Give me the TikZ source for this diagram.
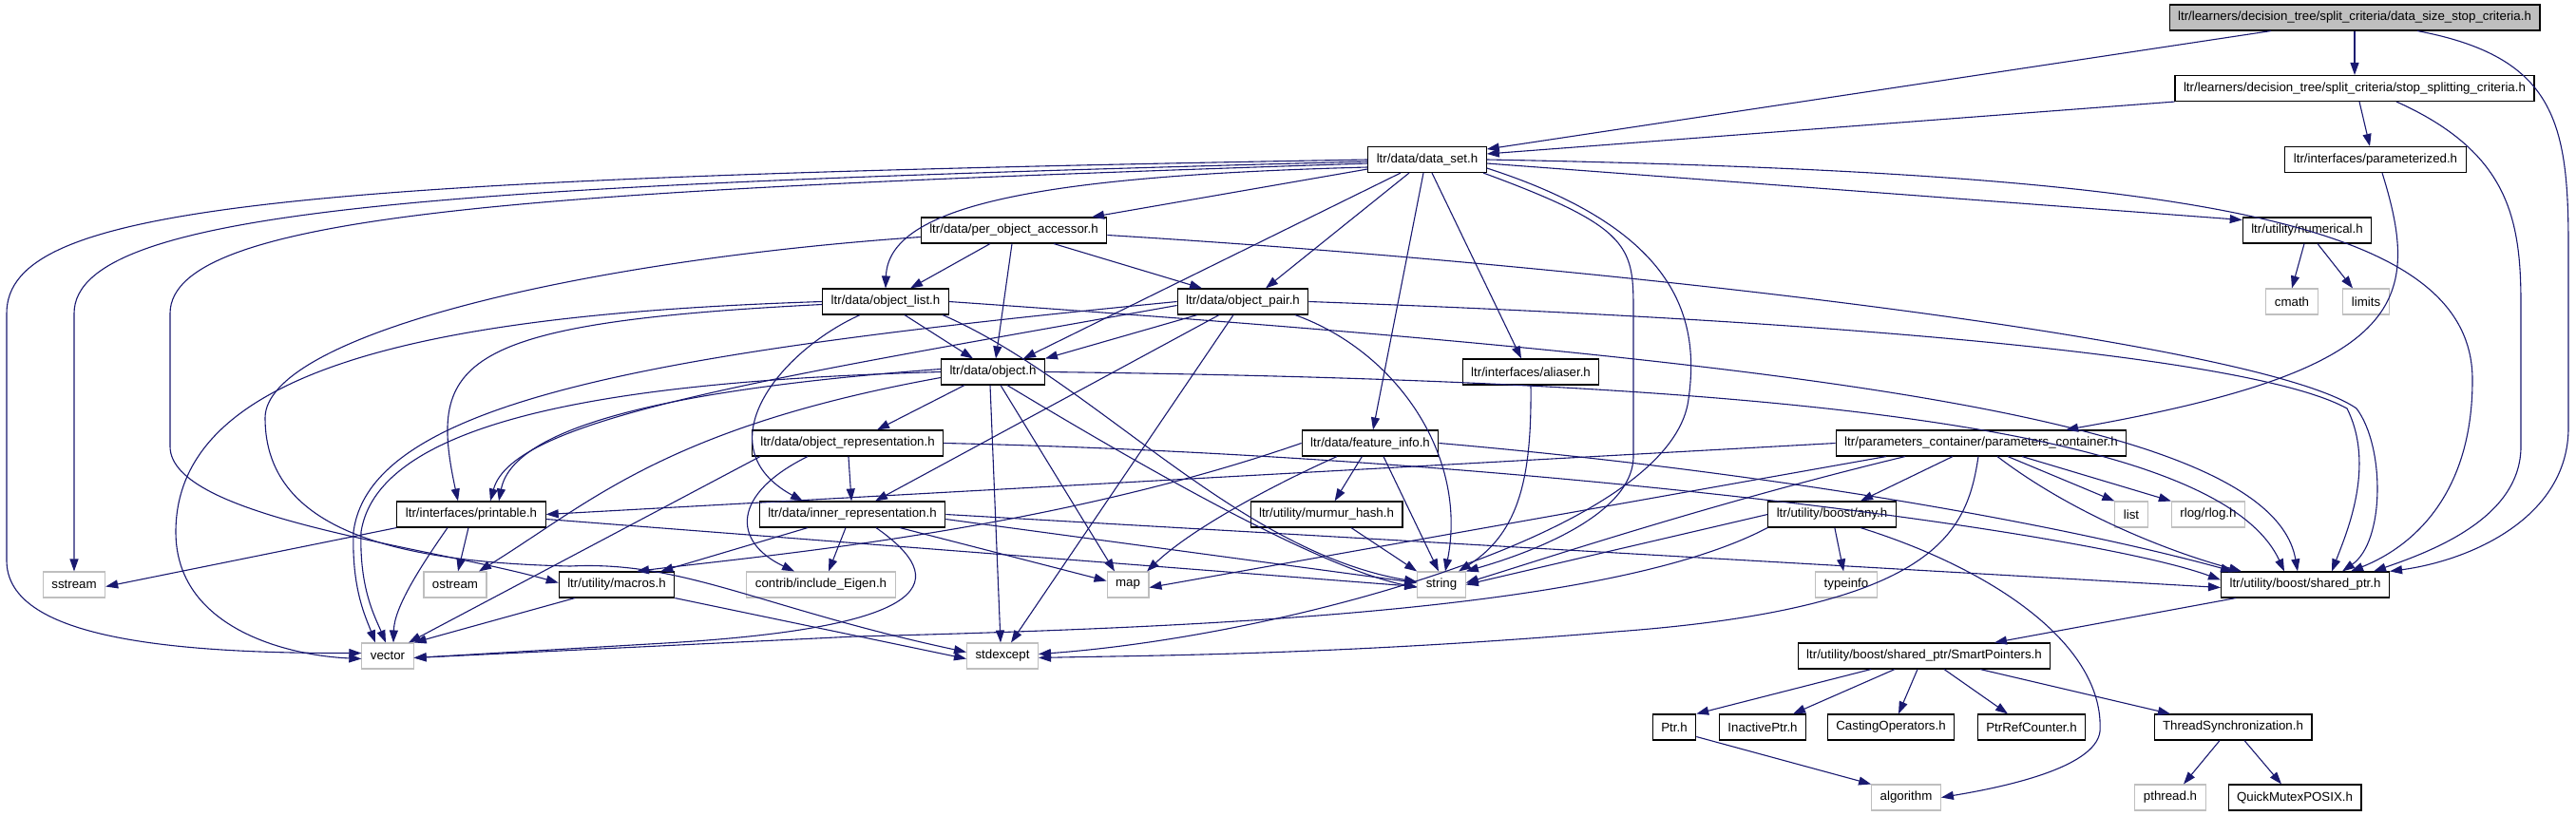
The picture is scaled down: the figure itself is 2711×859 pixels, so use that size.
\documentclass[tikz,border=0pt]{standalone}
\usepackage{fontspec}
\setmainfont{Liberation Sans}
\usetikzlibrary{arrows.meta}
\definecolor{edgeblue}{RGB}{25,25,112}
\definecolor{extgray}{RGB}{191,191,191}

\begin{document}
\begin{tikzpicture}[x=1pt, y=-1pt,
  hdr/.style={draw=black, line width=1.1pt, minimum height=27pt, inner xsep=9pt, inner ysep=0pt, font=\fontsize{13.3}{16}\selectfont},
  sys/.style={hdr, draw=extgray},
  rootbox/.style={hdr, fill=extgray},
  dep/.style={edgeblue, line width=1.1pt, -{Triangle[length=13pt,width=9pt]}}]

\useasboundingbox (0,0) rectangle (2711,859);

% headers
\node[rootbox] (dsc) at (2478,18.5) {ltr/learners/decision\_tree/split\_criteria/data\_size\_stop\_criteria.h};
\node[hdr] (ssc) at (2478,93) {ltr/learners/decision\_tree/split\_criteria/stop\_splitting\_criteria.h};
\node[hdr] (par) at (2500,168) {ltr/interfaces/parameterized.h};
\node[hdr] (ds) at (1502,168) {ltr/data/data\_set.h};
\node[hdr] (num) at (2428,242.5) {ltr/utility/numerical.h};
\node[hdr] (poa) at (1067,242.5) {ltr/data/per\_object\_accessor.h};
\node[hdr] (ol) at (932,317.5) {ltr/data/object\_list.h};
\node[hdr] (op) at (1308,317.5) {ltr/data/object\_pair.h};
\node[sys] (cmath) at (2412,317.5) {cmath};
\node[sys] (limits) at (2490,317.5) {limits};
\node[hdr] (obj) at (1045,391.5) {ltr/data/object.h};
\node[hdr] (ali) at (1611,391.5) {ltr/interfaces/aliaser.h};
\node[hdr] (orep) at (892,466.5) {ltr/data/object\_representation.h};
\node[hdr] (fi) at (1442,466.5) {ltr/data/feature\_info.h};
\node[hdr] (pc) at (2085,466.5) {ltr/parameters\_container/parameters\_container.h};
\node[hdr] (prn) at (496,541.5) {ltr/interfaces/printable.h};
\node[hdr] (irep) at (897,541.5) {ltr/data/inner\_representation.h};
\node[hdr] (mh) at (1396,541.5) {ltr/utility/murmur\_hash.h};
\node[hdr] (any) at (1928,541.5) {ltr/utility/boost/any.h};
\node[sys] (list) at (2243,541.5) {list};
\node[sys] (rlog) at (2324,541.5) {rlog/rlog.h};
\node[sys] (sstream) at (78,615.5) {sstream};
\node[sys] (ostream) at (479,615.5) {ostream};
\node[hdr] (mac) at (649,615.5) {ltr/utility/macros.h};
\node[sys] (eigen) at (864,615.5) {contrib/include\_Eigen.h};
\node[sys] (map) at (1187,615.5) {map};
\node[sys] (string) at (1517,615.5) {string};
\node[sys] (typeinfo) at (1943,615.5) {typeinfo};
\node[hdr] (sp) at (2426,615.5) {ltr/utility/boost/shared\_ptr.h};
\node[sys] (vector) at (408,690.5) {vector};
\node[sys] (stdexc) at (1055,690.5) {stdexcept};
\node[hdr] (smp) at (2025,690.5) {ltr/utility/boost/shared\_ptr/SmartPointers.h};
\node[hdr] (ptr) at (1762,765.5) {Ptr.h};
\node[hdr] (iptr) at (1855,765.5) {InactivePtr.h};
\node[hdr] (cast) at (1990,765.5) {CastingOperators.h};
\node[hdr] (prc) at (2138,765.5) {PtrRefCounter.h};
\node[hdr] (ts) at (2350,765.5) {ThreadSynchronization.h};
\node[sys] (algo) at (2006,839.5) {algorithm};
\node[sys] (pth) at (2284,839.5) {pthread.h};
\node[hdr] (qm) at (2415,839.5) {QuickMutexPOSIX.h};

% data_size_stop_criteria.h
\draw[dep] ([xshift=-88]dsc.south) -- ([yshift=11]ds.east);
\draw[dep] (dsc) -- (ssc);
\draw[dep] ([xshift=66]dsc.south) .. controls (2690,60) and (2703,130) .. (2703,260) -- (2703,450) .. controls (2703,545) and (2600,590) .. (sp.north east);

% stop_splitting_criteria.h
\draw[dep] (ssc.south west) -- ([yshift=6]ds.east);
\draw[dep] ([xshift=5]ssc.south) -- ([xshift=-6]par.north);
\draw[dep] ([xshift=44]ssc.south) .. controls (2640,160) and (2653,230) .. (2653,320) -- (2653,470) .. controls (2653,545) and (2560,580) .. ([xshift=72]sp.north);
\draw[dep] ([xshift=7]par.south) .. controls (2550,320) and (2530,390) .. ([xshift=89]pc.north);

% data_set.h
\draw[dep] (ds.west) .. controls (300,188) and (7,215) .. (7,330) -- (7,590) .. controls (7,665) and (150,688) .. ([yshift=3]vector.west);
\draw[dep] ([yshift=-2]ds.west) .. controls (500,195) and (78,215) .. (78,330) -- (sstream.north);
\draw[dep] ([yshift=-4]ds.west) .. controls (600,200) and (179,220) .. (179,330) -- (179,470) .. controls (179,545) and (450,575) .. ([yshift=2]mac.west);
\draw[dep] ([yshift=-8]ds.west) .. controls (1100,185) and (935,215) .. (ol.north);
\draw[dep] ([yshift=-10]ds.west) -- ([xshift=82]poa.north);
\draw[dep] ([xshift=-28]ds.south) -- ([xshift=32]obj.north);
\draw[dep] ([xshift=-19]ds.south) -- ([xshift=24]op.north);
\draw[dep] ([xshift=-4]ds.south) -- ([xshift=3]fi.north);
\draw[dep] ([xshift=5]ds.south) -- ([xshift=-10]ali.north);
\draw[dep] ([xshift=59]ds.south) .. controls (1719,240) and (1719,260) .. (1719,330) -- (1719,480) .. controls (1719,545) and (1600,585) .. (string.north east);
\draw[dep] ([yshift=-9]ds.east) .. controls (1760,240) and (1790,330) .. (1777,420) .. controls (1760,560) and (1350,670) .. ([yshift=2]stdexc.east);
\draw[dep] ([yshift=-4]ds.east) -- ([yshift=11]num.west);
\draw[dep] (ds.east) .. controls (2300,182) and (2602,230) .. (2602,400) .. controls (2602,520) and (2540,575) .. ([xshift=48]sp.north);

% numerical.h
\draw[dep] ([xshift=-3]num.south) -- (cmath.north);
\draw[dep] ([xshift=11]num.south) -- ([xshift=-14]limits.north);

% per_object_accessor.h
\draw[dep] ([xshift=-25]poa.south) -- ([xshift=26]ol.north);
\draw[dep] ([xshift=-2]poa.south) -- ([xshift=3]obj.north);
\draw[dep] ([xshift=42]poa.south) -- ([xshift=-43]op.north);
\draw[dep] ([yshift=-7]poa.west) .. controls (600,275) and (279,355) .. (279,440) .. controls (279,560) and (420,592) .. (600,596) .. controls (720,590) and (800,640) .. ([yshift=4]stdexc.west);
\draw[dep] ([yshift=-5]poa.east) .. controls (1700,280) and (2380,360) .. (2480,430) .. controls (2510,470) and (2510,570) .. ([xshift=39]sp.north);

% object_list.h
\draw[dep] ([xshift=20]ol.south) -- ([xshift=-21]obj.north);
\draw[dep] (ol.west) .. controls (480,330) and (185,380) .. (185,560) .. controls (185,660) and (300,690) .. ([yshift=-3]vector.west);
\draw[dep] ([yshift=-3]ol.west) .. controls (480,340) and (450,380) .. ([xshift=-14]prn.north);
\draw[dep] ([xshift=-27]ol.south) .. controls (820,370) and (740,470) .. ([xshift=-52]irep.north);
\draw[dep] ([xshift=60]ol.south) .. controls (1150,400) and (1300,580) .. ([yshift=3]string.west);
\draw[dep] (ol.east) .. controls (1900,380) and (2390,440) .. ([xshift=-8]sp.north);

% object_pair.h
\draw[dep] ([xshift=-48]op.south) -- (obj.north east);
\draw[dep] (op.west) .. controls (700,370) and (390,420) .. (372,560) .. controls (370,620) and (385,650) .. ([xshift=-13]vector.north);
\draw[dep] ([yshift=-4]op.west) .. controls (800,400) and (540,440) .. ([xshift=20]prn.north);
\draw[dep] ([xshift=-25]op.south) -- ([xshift=24]irep.north);
\draw[dep] ([xshift=-10]op.south) -- ([xshift=9]stdexc.north);
\draw[dep] ([xshift=55]op.south) .. controls (1470,370) and (1545,480) .. ([xshift=4]string.north);
\draw[dep] (op.east) .. controls (2000,340) and (2380,380) .. (2470,430) .. controls (2500,490) and (2470,560) .. ([xshift=28]sp.north);

% object.h
\draw[dep] ([xshift=-30]obj.south) -- ([xshift=31]orep.north);
\draw[dep] ([yshift=3]obj.west) .. controls (700,410) and (540,450) .. ([xshift=29]prn.north);
\draw[dep] (obj.west) .. controls (700,400) and (400,430) .. (380,560) .. controls (378,620) and (395,650) .. ([xshift=-2]vector.north);
\draw[dep] ([yshift=-6]obj.west) .. controls (700,450) and (620,530) .. ([xshift=25]ostream.north);
\draw[dep] ([xshift=8]obj.south) -- ([xshift=-14]map.north);
\draw[dep] ([xshift=-3]obj.south) -- ([xshift=-2]stdexc.north);
\draw[dep] ([xshift=15]obj.south) .. controls (1250,520) and (1400,600) .. ([yshift=-3]string.west);
\draw[dep] (obj.east) .. controls (1800,400) and (2330,440) .. ([xshift=-22]sp.north);

% object_representation.h
\draw[dep] (orep) -- (irep);
\draw[dep] ([xshift=-42]orep.south) .. controls (770,520) and (770,570) .. ([xshift=-28]eigen.north);
\draw[dep] ([xshift=-92]orep.south) -- ([xshift=22]vector.north);
\draw[dep] (orep.east) .. controls (1600,480) and (2200,560) .. ([yshift=5]sp.west);

% inner_representation.h
\draw[dep] ([xshift=-7]irep.south) -- ([xshift=8]eigen.north);
\draw[dep] ([xshift=50]irep.south) -- ([yshift=4]map.west);
\draw[dep] ([yshift=-5]irep.east) -- ([yshift=2]string.west);
\draw[dep] (irep.east) -- ([yshift=-3]sp.west);
\draw[dep] ([xshift=-47]irep.south) -- ([xshift=-15]mac.north east);
\draw[dep] ([xshift=25]irep.south) .. controls (1000,610) and (990,660) .. (700,677) -- ([yshift=-2]vector.east);

% feature_info.h
\draw[dep] (fi) -- (mh);
\draw[dep] ([xshift=14]fi.south) -- ([xshift=-3]string.north);
\draw[dep] ([xshift=-35]fi.south) .. controls (1330,515) and (1250,560) .. ([xshift=20]map.north);
\draw[dep] (fi.west) .. controls (1100,560) and (800,585) .. ([xshift=21]mac.north);
\draw[dep] (fi.east) .. controls (1900,500) and (2200,560) .. ([xshift=-76]sp.north);

% murmur_hash.h, aliaser.h
\draw[dep] ([xshift=26]mh.south) -- (string.north west);
\draw[dep] (ali.south) .. controls (1612,500) and (1600,560) .. ([xshift=18]string.north);

% parameters_container.h
\draw[dep] (pc.west) -- (prn.east);
\draw[dep] ([xshift=-30]pc.south) -- ([xshift=30]any.north);
\draw[dep] ([xshift=28]pc.south) -- (list.north west);
\draw[dep] ([xshift=43]pc.south) -- (rlog.north west);
\draw[dep] ([xshift=-80]pc.south) .. controls (1800,530) and (1620,590) .. ([yshift=2]string.east);
\draw[dep] ([xshift=-100]pc.south) -- ([yshift=-3]map.east);
\draw[dep] ([xshift=-3]pc.south) .. controls (2070,560) and (2040,640) .. (1700,665) .. controls (1400,690) and (1200,690) .. ([yshift=-2]stdexc.east);
\draw[dep] ([xshift=17]pc.south) .. controls (2180,540) and (2280,580) .. ([xshift=-67]sp.north);

% any.h
\draw[dep] (any) -- (typeinfo);
\draw[dep] ([xshift=30]any.south) .. controls (2100,600) and (2215,680) .. (2210,770) .. controls (2205,810) and (2100,830) .. (algo.east);
\draw[dep] (any.south west) .. controls (1700,640) and (1300,660) .. (900,670) -- ([yshift=-2]vector.east);
\draw[dep] (any.west) -- (string.east);

% printable.h
\draw[dep] (prn.south west) -- ([yshift=-2]sstream.east);
\draw[dep] ([xshift=-3]prn.south) -- ([xshift=3]ostream.north);
\draw[dep] ([xshift=-25]prn.south) .. controls (440,600) and (415,640) .. ([xshift=6]vector.north);
\draw[dep] ([yshift=-5]prn.east) -- ([yshift=-2]string.west);

% macros.h
\draw[dep] ([xshift=-44]mac.south) -- (vector.north east);
\draw[dep] (mac.south east) -- ([yshift=-3]stdexc.west);

% shared_ptr.h
\draw[dep] ([xshift=-73]sp.south) -- ([xshift=74]smp.north);
\draw[dep] ([xshift=-56]smp.south) -- (ptr.north east);
\draw[dep] ([xshift=-31]smp.south) -- ([xshift=32]iptr.north);
\draw[dep] ([xshift=-7]smp.south) -- ([xshift=8]cast.north);
\draw[dep] ([xshift=21]smp.south) -- ([xshift=-25]prc.north);
\draw[dep] ([xshift=59]smp.south) -- ([xshift=-66]ts.north);
\draw[dep] ([yshift=-10]ptr.east) -- (algo.north west);
\draw[dep] ([xshift=-14]ts.south) -- ([xshift=14]pth.north);
\draw[dep] ([xshift=12]ts.south) -- ([xshift=-14]qm.north);

\end{tikzpicture}
\end{document}
